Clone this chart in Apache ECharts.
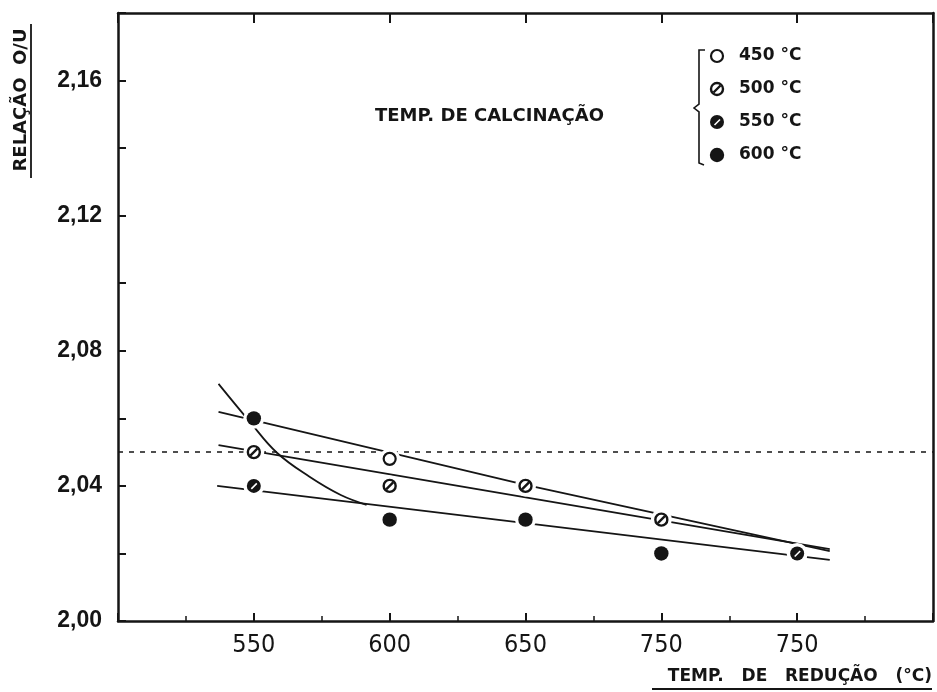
<!DOCTYPE html>
<html>
<head>
<meta charset="utf-8">
<title>Relação O/U x temperatura de redução</title>
<script src="https://cdn.jsdelivr.net/npm/echarts@6/dist/echarts.min.js"></script>
<style>
  html, body { margin: 0; padding: 0; background: #fff; }
  #chart { width: 937px; height: 692px; }
</style>
</head>
<body>
<div id="chart"></div>
<script>
// temperaturas de redução (eixo x) - o original repete "750"
const categories = ["550", "600", "650", "750", "750"];
const yTicks = [2.00, 2.04, 2.08, 2.12, 2.16];

// relação O/U por temperatura de calcinação (null = sem ponto)
const seriesNames = ["450 °C", "500 °C", "550 °C", "600 °C"];
const calc450 = [null, 2.048, null, null, null];
const calc500 = [2.050, 2.040, 2.040, 2.030, null];
const calc550 = [2.040, null, null, null, 2.020];
const calc600 = [2.060, 2.030, 2.030, 2.020, null];

// retas e curva traçadas à mão: [posição x, O/U], posição 1 = primeira categoria
const fitTop = [[0.74, 2.0619], [3.00, 2.0403], [5.24, 2.0207]];
const fitMid = [[0.74, 2.0521], [5.24, 2.0213]];
const fitLow = [[0.73, 2.0400], [5.24, 2.0181]];
const fitCurve = [[0.74, 2.0702], [0.97, 2.0590], [1.17, 2.0498], [1.41, 2.0427], [1.64, 2.0373], [1.83, 2.0344]];
const refLevel = 2.05;

const INK = "#151515";
const kinds = ["open", "slash", "half", "full"];

// marcadores desenhados em svg; o halo branco corta as retas em volta do ponto
function markerSvg(kind, size, halo) {
  const c = size / 2;
  let s = `<svg xmlns="http://www.w3.org/2000/svg" width="${size}" height="${size}" viewBox="0 0 ${size} ${size}">`;
  if (halo) s += `<circle cx="${c}" cy="${c}" r="${c - 1.5}" fill="#fff"/>`;
  if (kind === "open") {
    s += `<circle cx="${c}" cy="${c}" r="6" fill="#fff" stroke="${INK}" stroke-width="2.2"/>`;
  } else if (kind === "slash") {
    s += `<circle cx="${c}" cy="${c}" r="6" fill="#fff" stroke="${INK}" stroke-width="2.4"/>`;
    s += `<line x1="${c - 3.5}" y1="${c + 3.5}" x2="${c + 3.5}" y2="${c - 3.5}" stroke="${INK}" stroke-width="2.4"/>`;
  } else if (kind === "half") {
    s += `<circle cx="${c}" cy="${c}" r="7" fill="${INK}"/>`;
    s += `<line x1="${c - 2.5}" y1="${c + 3}" x2="${c + 3}" y2="${c - 2.5}" stroke="#fff" stroke-width="1.6"/>`;
  } else {
    s += `<circle cx="${c}" cy="${c}" r="7.2" fill="${INK}"/>`;
  }
  s += "</svg>";
  return "image://data:image/svg+xml;charset=utf-8," + encodeURIComponent(s);
}

function toPoints(values) {
  return values.map((v, i) => (v == null ? null : [i + 1, v])).filter((p) => p);
}

function fitLine(data, extra) {
  return Object.assign({
    type: "line",
    data: data,
    symbol: "none",
    silent: true,
    z: 2,
    lineStyle: { color: INK, width: 1.8 },
  }, extra || {});
}

const chart = echarts.init(document.getElementById("chart"), null, { renderer: "canvas" });

const scatterData = [calc450, calc500, calc550, calc600];

chart.setOption({
  backgroundColor: "#fff",
  animation: false,
  title: {
    text: "TEMP. DE CALCINAÇÃO",
    left: 370,
    top: 102,
    textStyle: { fontFamily: "DejaVu Sans", fontWeight: "bold", fontSize: 18, color: INK },
  },
  legend: {
    orient: "vertical",
    left: 703,
    top: 42,
    itemWidth: 18,
    itemHeight: 18,
    itemGap: 15,
    data: seriesNames.map((n, i) => ({ name: n, icon: markerSvg(kinds[i], 18, false) })),
    textStyle: { fontFamily: "DejaVu Sans", fontWeight: "bold", fontSize: 17, color: INK, padding: [0, 0, 0, 8] },
  },
  grid: { left: 118, right: 4, top: 13, bottom: 71 },
  xAxis: [
    {
      type: "value",
      min: 0,
      max: 6,
      interval: 1,
      position: "bottom",
      axisLine: { onZero: false, lineStyle: { color: INK, width: 2.5 } },
      axisTick: { inside: true, length: 8, lineStyle: { color: INK, width: 2 } },
      minorTick: { show: true, splitNumber: 2, length: 5, lineStyle: { color: INK, width: 1.5 } },
      axisLabel: {
        formatter: (v) => categories[v - 1] || "",
        margin: 12,
        fontFamily: "Liberation Sans Narrow, DejaVu Sans Condensed, sans-serif",
        fontSize: 25,
        color: INK,
      },
      splitLine: { show: false },
    },
    {
      type: "value",
      min: 0,
      max: 6,
      interval: 1,
      position: "top",
      axisLine: { onZero: false, lineStyle: { color: INK, width: 2.5 } },
      axisTick: { inside: true, length: 10, lineStyle: { color: INK, width: 2 } },
      axisLabel: { show: false },
      splitLine: { show: false },
    },
  ],
  yAxis: [
    {
      type: "value",
      min: 2.0,
      max: 2.18,
      interval: 0.02,
      axisLine: { show: true, onZero: false, lineStyle: { color: INK, width: 2.5 } },
      axisTick: { inside: true, length: 8, lineStyle: { color: INK, width: 2 } },
      axisLabel: {
        formatter: (v) => {
          const k = Math.round(v * 100);
          return yTicks.some((t) => Math.round(t * 100) === k) ? (k / 100).toFixed(2).replace(".", ",") : "";
        },
        margin: 16,
        fontFamily: "Liberation Sans",
        fontWeight: "bold",
        fontSize: 23,
        color: INK,
      },
      splitLine: { show: false },
    },
    {
      type: "value",
      min: 2.0,
      max: 2.18,
      position: "right",
      axisLine: { show: true, onZero: false, lineStyle: { color: INK, width: 2.5 } },
      axisTick: { show: false },
      axisLabel: { show: false },
      splitLine: { show: false },
    },
  ],
  series: [
    fitLine(fitTop, {
      markLine: {
        silent: true,
        symbol: "none",
        label: { show: false },
        lineStyle: { color: INK, width: 1.6, type: [5, 6] },
        data: [{ yAxis: refLevel }],
      },
    }),
    fitLine(fitMid),
    fitLine(fitLow),
    fitLine(fitCurve, { smooth: 0.4 }),
    ...seriesNames.map((name, i) => ({
      type: "scatter",
      name: name,
      data: toPoints(scatterData[i]),
      symbol: markerSvg(kinds[i], 24, true),
      symbolSize: 24,
      itemStyle: { opacity: 1 },
      z: 5,
    })),
  ],
  graphic: [
    {
      type: "text",
      x: 21,
      y: 100,
      rotation: Math.PI / 2,
      style: {
        text: "RELAÇÃO  O/U",
        font: "bold 18px DejaVu Sans",
        fill: INK,
        align: "center",
        verticalAlign: "middle",
      },
    },
    { type: "line", shape: { x1: 31, y1: 24, x2: 31, y2: 178 }, style: { stroke: INK, lineWidth: 1.8 } },
    {
      type: "text",
      x: 932,
      y: 677,
      style: {
        text: "TEMP.   DE   REDUÇÃO   (°C)",
        font: "bold 17px DejaVu Sans",
        fill: INK,
        align: "right",
        verticalAlign: "middle",
      },
    },
    { type: "line", shape: { x1: 652, y1: 689, x2: 932, y2: 689 }, style: { stroke: INK, lineWidth: 1.8 } },
    {
      type: "polyline",
      shape: { points: [[705, 50], [699, 50], [699, 104], [694, 108], [699, 112], [699, 163], [704, 165]] },
      style: { stroke: INK, lineWidth: 1.6, fill: null },
    },
  ],
});
</script>
</body>
</html>
